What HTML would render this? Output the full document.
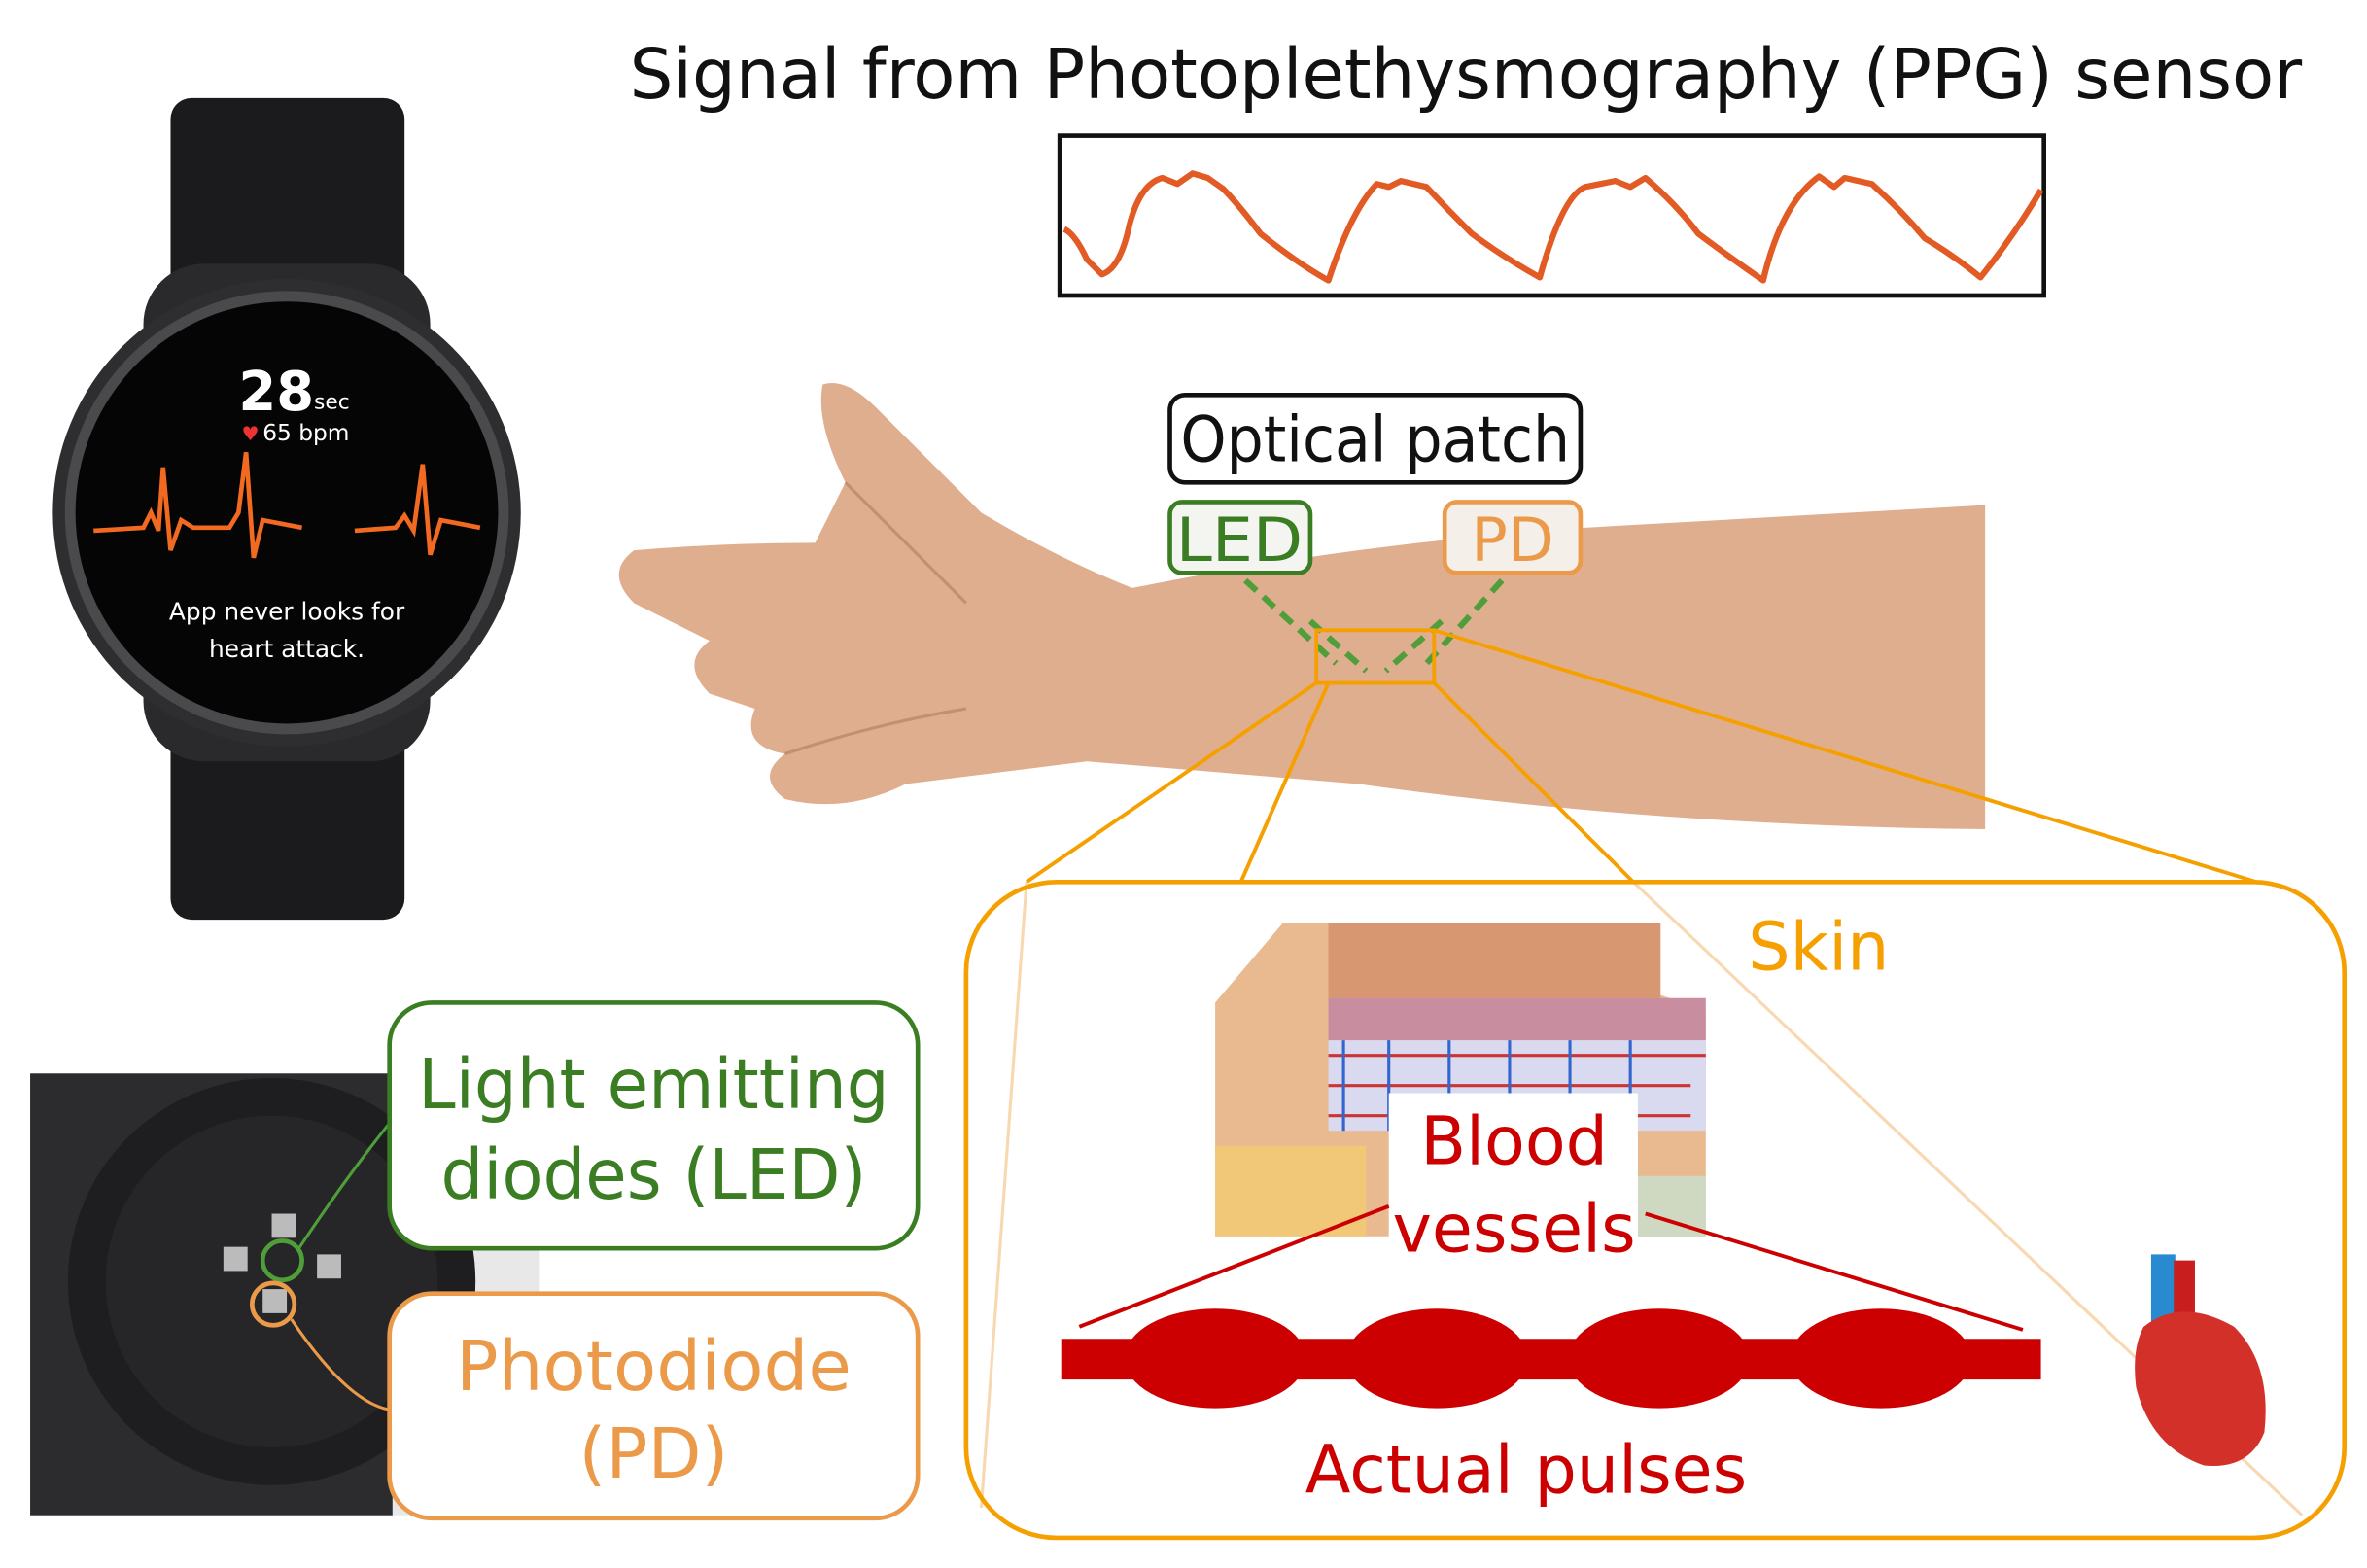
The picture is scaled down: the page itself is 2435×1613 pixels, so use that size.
<!DOCTYPE html>
<html><head><meta charset="utf-8"><style>
html,body{margin:0;padding:0;background:#fff;}
svg{display:block;}
text{font-family:"DejaVu Sans","Liberation Sans",sans-serif;}
</style></head><body>
<svg width="2435" height="1613" viewBox="0 0 1568 1040" preserveAspectRatio="none" xmlns="http://www.w3.org/2000/svg">
<rect width="1568" height="1040" fill="#fff"/>
<!-- Title -->
<text x="417" y="65" font-size="46" fill="#111" textLength="1108" lengthAdjust="spacingAndGlyphs">Signal from Photoplethysmography (PPG) sensor</text>
<!-- PPG box -->
<rect x="702" y="90" width="652" height="106" fill="#fff" stroke="#111" stroke-width="3"/>
<path d="M705,152 Q712,155 720,172 L730,182 Q742,178 748,150 Q755,122 770,118 L780,122 L790,115 L800,118 L810,125 Q820,135 835,155 Q860,175 880,186 Q895,140 912,122 L920,124 L928,120 L945,124 Q960,140 975,155 Q995,170 1020,184 Q1035,130 1050,124 L1070,120 L1080,124 L1090,118 Q1110,135 1125,155 Q1145,170 1168,186 Q1180,135 1205,117 L1215,124 L1222,118 L1240,122 Q1260,140 1275,158 Q1295,170 1312,184 Q1335,155 1352,126" fill="none" stroke="#e25a24" stroke-width="4" stroke-linejoin="round"/>
<!-- Watch front -->
<rect x="113" y="65" width="155" height="150" rx="14" fill="#1b1b1d"/>
<rect x="113" y="460" width="155" height="150" rx="14" fill="#1b1b1d"/>
<rect x="95" y="175" width="190" height="330" rx="40" fill="#2a2a2c"/>
<circle cx="190" cy="340" r="155" fill="#2e2e30"/>
<circle cx="190" cy="340" r="147" fill="#4a4a4c"/>
<circle cx="190" cy="340" r="140" fill="#050505"/>
<text x="158" y="272" font-size="36" fill="#fff" font-weight="bold">28</text>
<text x="208" y="271" font-size="14" fill="#fff">sec</text>
<text x="160" y="292" font-size="13" fill="#e33">♥</text>
<text x="174" y="292" font-size="15" fill="#fff">65 bpm</text>
<path d="M62,352 L95,350 L100,340 L105,352 L108,310 L113,365 L120,345 L128,350 L152,350 L158,340 L163,300 L168,370 L174,345 L200,350 M235,352 L262,350 L268,342 L274,352 L280,308 L285,368 L292,345 L318,350" fill="none" stroke="#f26a21" stroke-width="3"/>
<text x="190" y="411" font-size="16" fill="#fff" text-anchor="middle">App never looks for</text>
<text x="190" y="436" font-size="16" fill="#fff" text-anchor="middle">heart attack.</text>
<!-- Arm & hand -->
<path d="M750,390 Q900,360 1050,350 L1315,335 L1315,550 Q1100,548 900,520 Q780,510 720,505 L600,520 Q560,540 520,530 Q500,515 520,500 Q490,495 500,470 L470,460 Q450,440 470,425 L420,400 Q400,380 420,365 Q480,360 540,360 L560,320 Q540,280 545,255 Q560,250 580,270 Q620,310 650,340 Q700,370 750,390 Z" fill="#dfae8f"/>
<path d="M560,320 Q600,360 640,400 M520,500 Q580,480 640,470" fill="none" stroke="#c48f70" stroke-width="2"/>
<!-- Optical patch -->
<rect x="775" y="262" width="272" height="58" rx="10" fill="#fff" stroke="#111" stroke-width="3"/>
<text x="911" y="306" font-size="42" fill="#111" text-anchor="middle" textLength="258" lengthAdjust="spacingAndGlyphs">Optical patch</text>
<rect x="775" y="333" width="93" height="47" rx="8" fill="#f4f4f0" stroke="#3a7d22" stroke-width="3"/>
<text x="821" y="372" font-size="40" fill="#3a7d22" text-anchor="middle" textLength="84" lengthAdjust="spacingAndGlyphs">LED</text>
<rect x="957" y="333" width="90" height="47" rx="8" fill="#f4efe8" stroke="#eb9a4a" stroke-width="3"/>
<text x="1002" y="372" font-size="40" fill="#eb9a4a" text-anchor="middle">PD</text>
<g stroke="#4f9e3a" stroke-width="4" stroke-dasharray="10,6" fill="none">
<path d="M825,385 L885,440"/><path d="M995,385 L945,440"/>
<path d="M868,412 L905,445"/><path d="M955,412 L918,445"/>
</g>
<rect x="872" y="418" width="78" height="35" fill="none" stroke="#f5a000" stroke-width="2.5"/>
<!-- zoom lines -->
<g stroke="#f5a000" stroke-width="2.5" fill="none">
<path d="M872,453 L680,585"/><path d="M880,453 L822,585"/><path d="M950,453 L1082,585"/><path d="M950,418 L1495,585"/>
</g>
<path d="M1082,585 L1525,1005" stroke="#f8d8b0" stroke-width="2"/>
<path d="M680,585 L650,1000" stroke="#f8d8b0" stroke-width="2"/>
<!-- Big box -->
<rect x="640" y="585" width="913" height="435" rx="60" fill="none" stroke="#f5a000" stroke-width="3"/>
<text x="1158" y="643" font-size="44" fill="#f5a000">Skin</text>
<!-- Skin diagram -->
<path d="M805,665 L850,612 L1100,612 L1100,660 L1130,670 L1130,820 L805,820 Z" fill="#e9b98f"/>
<rect x="880" y="612" width="220" height="50" fill="#d79770"/>
<path d="M880,662 L1130,662 L1130,690 L880,690 Z" fill="#c98da0"/>
<rect x="880" y="690" width="250" height="60" fill="#d9d9f0"/>
<path d="M880,700 L1130,700 M880,720 L1120,720 M880,740 L1120,740" stroke="#c33" stroke-width="2"/>
<path d="M890,690 L890,750 M920,690 L920,750 M960,690 L960,750 M1000,690 L1000,750 M1040,690 L1040,750 M1080,690 L1080,750" stroke="#36c" stroke-width="2"/>
<rect x="805" y="760" width="100" height="60" fill="#f0c878"/>
<rect x="1085" y="780" width="45" height="40" fill="#cfd8c0"/>
<rect x="920" y="725" width="165" height="110" fill="#fff"/>
<text x="1003" y="772" font-size="44" fill="#cc0000" text-anchor="middle">Blood</text>
<text x="1003" y="830" font-size="44" fill="#cc0000" text-anchor="middle">vessels</text>
<!-- pulses -->
<path d="M920,800 L715,880 M1090,805 L1340,882" stroke="#cc0000" stroke-width="2.5"/>
<rect x="703" y="888" width="649" height="27" fill="#cc0000"/>
<ellipse cx="805" cy="901" rx="60" ry="33" fill="#cc0000"/>
<ellipse cx="952" cy="901" rx="60" ry="33" fill="#cc0000"/>
<ellipse cx="1099" cy="901" rx="60" ry="33" fill="#cc0000"/>
<ellipse cx="1246" cy="901" rx="60" ry="33" fill="#cc0000"/>
<text x="1011" y="990" font-size="44" fill="#cc0000" text-anchor="middle">Actual pulses</text>
<!-- heart -->
<rect x="1425" y="832" width="16" height="50" fill="#2a8ad0"/>
<rect x="1440" y="836" width="14" height="40" fill="#c81e1e"/>
<path d="M1420,880 Q1445,860 1480,880 Q1505,905 1500,950 Q1490,975 1460,972 Q1425,960 1415,920 Q1412,895 1420,880 Z" fill="#d4302a"/>
<!-- watch back photo -->
<rect x="20" y="712" width="337" height="293" fill="#e8e8e8"/>
<rect x="20" y="712" width="240" height="293" fill="#2c2c2e"/>
<circle cx="180" cy="850" r="135" fill="#1e1e20"/>
<circle cx="180" cy="850" r="110" fill="#262628"/>
<rect x="180" y="805" width="16" height="16" fill="#bbb"/>
<rect x="148" y="827" width="16" height="16" fill="#bbb"/>
<rect x="210" y="832" width="16" height="16" fill="#bbb"/>
<rect x="174" y="855" width="16" height="16" fill="#bbb"/>
<circle cx="187" cy="836" r="13" fill="none" stroke="#4f9e3a" stroke-width="3"/>
<circle cx="181" cy="865" r="14" fill="none" stroke="#eb9a4a" stroke-width="3"/>
<path d="M198,828 Q230,780 258,745" stroke="#4f9e3a" stroke-width="2" fill="none"/>
<path d="M193,875 Q230,930 258,935" stroke="#eb9a4a" stroke-width="2" fill="none"/>
<!-- labels -->
<rect x="258" y="665" width="350" height="163" rx="28" fill="#fff" stroke="#3a7d22" stroke-width="3"/>
<text x="433" y="735" font-size="46" fill="#3a7d22" text-anchor="middle" textLength="312" lengthAdjust="spacingAndGlyphs">Light emitting</text>
<text x="433" y="795" font-size="46" fill="#3a7d22" text-anchor="middle" textLength="282" lengthAdjust="spacingAndGlyphs">diodes (LED)</text>
<rect x="258" y="858" width="350" height="149" rx="28" fill="#fff" stroke="#eb9a4a" stroke-width="3"/>
<text x="433" y="922" font-size="46" fill="#eb9a4a" text-anchor="middle" textLength="262" lengthAdjust="spacingAndGlyphs">Photodiode</text>
<text x="433" y="980" font-size="46" fill="#eb9a4a" text-anchor="middle">(PD)</text>
</svg>
</body></html>
